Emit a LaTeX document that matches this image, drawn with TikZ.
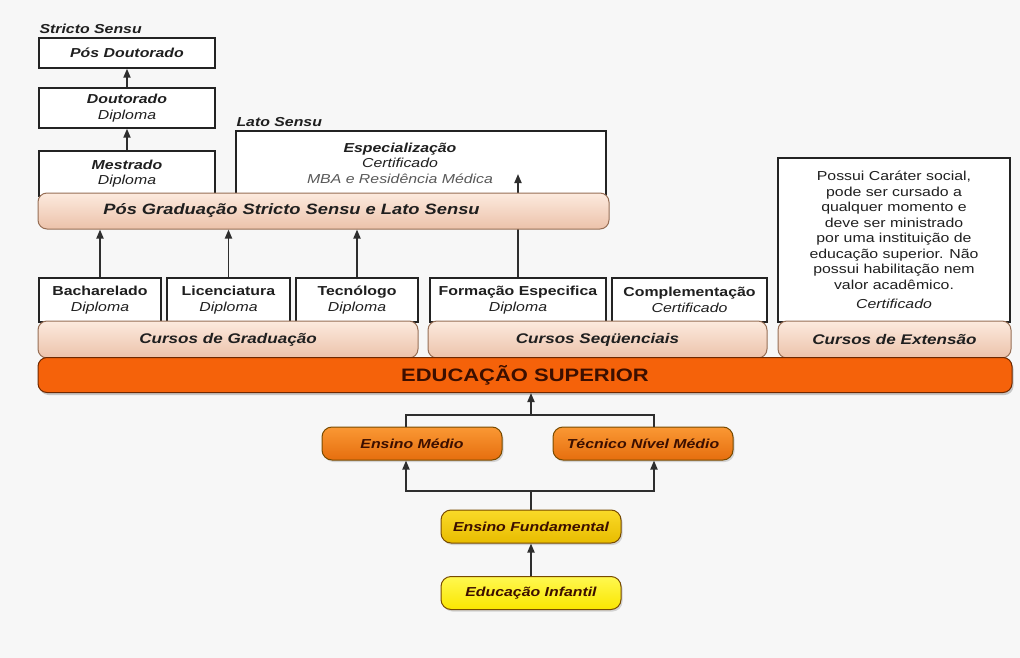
\documentclass[tikz,border=0pt]{standalone}
\usepackage{fontspec}
\setmainfont{Liberation Sans}[FakeStretch=1.22]
\usetikzlibrary{arrows.meta, positioning, shadows}

\definecolor{bgcol}{RGB}{247,247,247}
\definecolor{boxline}{RGB}{35,35,35}
\definecolor{peachtop}{RGB}{252,234,222}
\definecolor{peachbot}{RGB}{236,194,170}
\definecolor{peachline}{RGB}{150,110,85}
\definecolor{supcol}{RGB}{245,98,10}
\definecolor{supline}{RGB}{110,40,0}
\definecolor{medtop}{RGB}{250,152,52}
\definecolor{medbot}{RGB}{230,110,14}
\definecolor{fundtop}{RGB}{250,218,40}
\definecolor{fundbot}{RGB}{232,188,0}
\definecolor{inftop}{RGB}{255,248,80}
\definecolor{infbot}{RGB}{250,230,0}
\definecolor{pillline}{RGB}{120,75,0}
\definecolor{darktxt}{RGB}{60,15,0}

\begin{document}
\begin{tikzpicture}[x=1pt, y=-1pt,
    box/.style={draw=boxline, line width=1.4pt, fill=white, align=center, inner sep=0pt, text=black!88, font=\fontsize{13}{15.5}\selectfont},
    bar/.style={draw=peachline, line width=1pt, rounded corners=9pt, top color=peachtop, bottom color=peachbot, inner sep=0pt, text=black!88, font=\fontsize{14}{16}\selectfont\bfseries\itshape},
    pill/.style={draw=pillline, line width=1pt, rounded corners=10pt, minimum width=180pt, minimum height=33pt, inner sep=0pt, text=darktxt, font=\fontsize{13}{15}\selectfont\bfseries\itshape, drop shadow={opacity=0.3, shadow xshift=1.5pt, shadow yshift=-2pt}},
    lbl/.style={inner sep=0pt, text=black!88, font=\fontsize{13}{15}\selectfont\bfseries\itshape},
    arr/.style={-{Triangle[length=9pt, width=7pt]}, line width=1.8pt, draw=black!82},
    ln/.style={line width=1.8pt, draw=black!82}
]
    \useasboundingbox (0,0) rectangle (1020,658);
    \fill[bgcol] (0,0) rectangle (1020,658);

    % Stricto Sensu
    \node[box, minimum width=176pt, minimum height=30pt] (posdout) at (127,53) {\textbf{\textit{Pós Doutorado}}};
    \node[box, minimum width=176pt, minimum height=40pt] (dout) at (127,108) {\textbf{\textit{Doutorado}}\\\textit{Diploma}};
    \node[box, minimum width=176pt, minimum height=45pt] (mest) at (127,173.5) {\textbf{\textit{Mestrado}}\\\textit{Diploma}};
    \node[lbl, above right=3pt and 1pt of posdout.north west] (stricto) {Stricto Sensu};

    \draw[arr] (dout) -- (posdout);
    \draw[arr] (mest) -- (dout);

    % Lato Sensu
    \node[box, minimum width=370pt, minimum height=65pt] (espec) at (421,163.5) {};
    \node[align=center, inner sep=0pt, text=black!88, font=\fontsize{13}{15.5}\selectfont] (espectxt) at (400,163)
        {\textbf{\textit{Especialização}}\\\textit{Certificado}\\\textcolor{black!65}{\textit{MBA e Residência Médica}}};
    \node[lbl, above right=3pt and 1pt of espec.north west] (lato) {Lato Sensu};

    % cursos
    \node[box, minimum width=122pt, minimum height=44pt] (bach) at (100,300) {\textbf{Bacharelado}\\\textit{Diploma}};
    \node[box, minimum width=123pt, minimum height=44pt] (lic) at (228.5,300) {\textbf{Licenciatura}\\\textit{Diploma}};
    \node[box, minimum width=122pt, minimum height=44pt] (tec) at (357,300) {\textbf{Tecnólogo}\\\textit{Diploma}};
    \node[box, minimum width=176pt, minimum height=44pt] (form) at (518,300) {\textbf{Formação Especifica}\\\textit{Diploma}};
    \node[box, minimum width=155pt, minimum height=44pt] (comp) at (689.5,300) {\textbf{Complementação}\\\textit{Certificado}};
    \node[box, minimum width=232pt, minimum height=164pt] (ext) at (894,240)
        {Possui Caráter social,\\pode ser cursado a\\qualquer momento e\\deve ser ministrado\\por uma instituição de\\educação superior. Não\\possui habilitação nem\\valor acadêmico.\\[4pt]\textit{Certificado}};

    % seta que passa por tras da barra
    \coordinate (espectip) at (518,174);
    \draw[arr] (form.north) -- (espectip);

    % barras
    \node[bar, minimum width=571pt, minimum height=36pt,
        label={[text=black!88, font=\fontsize{15}{17}\selectfont\bfseries\itshape, xshift=-32pt]center:Pós Graduação Stricto Sensu e Lato Sensu}] (posgrad) at (323.5,211) {};
    \node[bar, minimum width=380pt, minimum height=37pt] (grad) at (228,339.5) {Cursos de Graduação};
    \node[bar, minimum width=339pt, minimum height=37pt] (seq) at (597.5,339.5) {Cursos Seqüenciais};
    \node[bar, minimum width=233pt, minimum height=37pt] (extbar) at (894.5,339.5) {Cursos de Extensão};

    \node[draw=supline, line width=1pt, rounded corners=9pt, fill=supcol, minimum width=974pt, minimum height=35pt,
        inner sep=0pt, text=darktxt, font=\fontsize{18}{20}\selectfont\bfseries,
        drop shadow={opacity=0.4, shadow xshift=1.5pt, shadow yshift=-2.5pt}] (sup) at (525,375) {EDUCAÇÃO SUPERIOR};

    \draw[arr] (bach.north) -- (bach.north |- posgrad.south);
    \draw[arr] (lic.north) -- (lic.north |- posgrad.south);
    \draw[arr] (tec.north) -- (tec.north |- posgrad.south);

    % educacao basica
    \node[pill, top color=medtop, bottom color=medbot] (medio) at (412,443.5) {Ensino Médio};
    \node[pill, top color=medtop, bottom color=medbot] (tecn) at (643,443.5) {Técnico Nível Médio};
    \node[pill, top color=fundtop, bottom color=fundbot] (fund) at (531,526.5) {Ensino Fundamental};
    \node[pill, top color=inftop, bottom color=infbot] (inf) at (531,593) {Educação Infantil};

    \coordinate (forka) at (531,415);
    \coordinate (forkb) at (531,491);
    \draw[ln] ([xshift=-6pt]medio.north) |- (forka) -| ([xshift=11pt]tecn.north);
    \draw[arr] (forka) -- (forka |- sup.south);
    \draw[ln] (fund.north) -- (forkb);
    \draw[arr] (forkb) -| ([xshift=-6pt]medio.south);
    \draw[arr] (forkb) -| ([xshift=11pt]tecn.south);
    \draw[arr] (inf) -- (fund);

\end{tikzpicture}
\end{document}
